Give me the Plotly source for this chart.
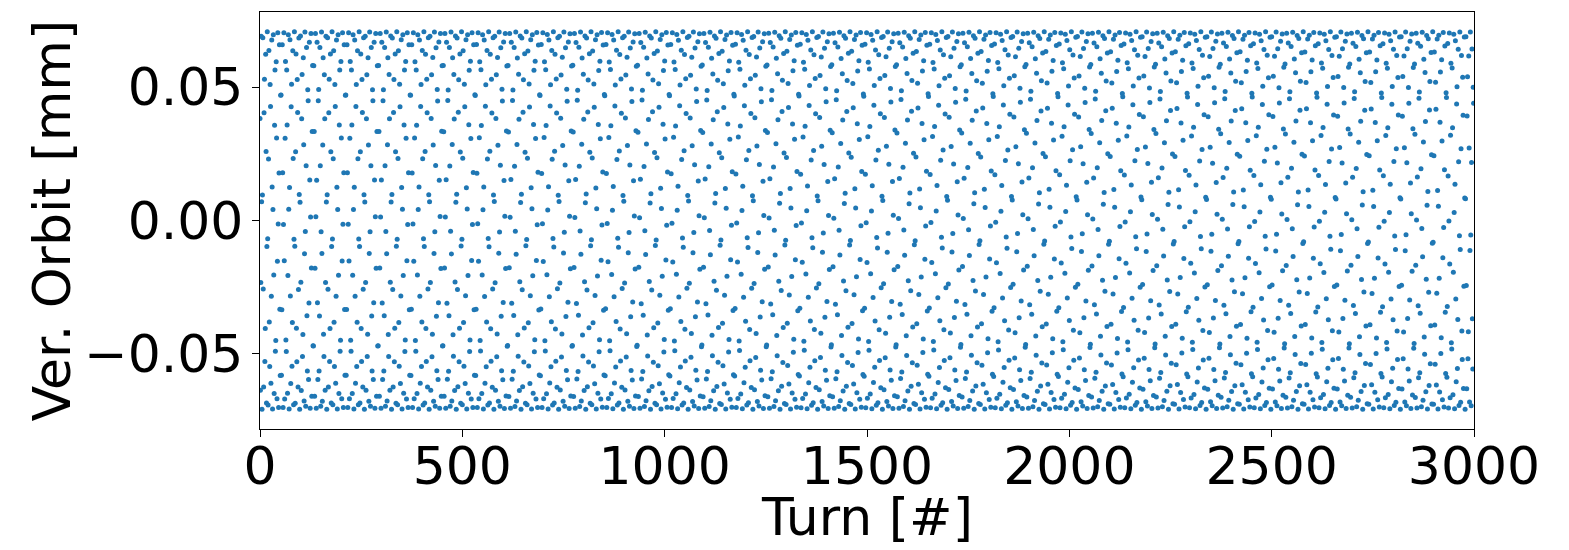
import numpy as np
import plotly.graph_objects as go

# Turn-by-turn vertical orbit: a betatron oscillation sampled once per turn.
# The 3000 samples are generated from oscillation parameters estimated from the
# picture (amplitude, fractional tune giving the ~160-turn repeat, phase).
n_turns = 3000
amplitude_mm = 0.0707
frac_tune = 43 / 160 + 1e-6
phase0 = 1.0

x_ticks = [0, 500, 1000, 1500, 2000, 2500, 3000]
x_tick_labels = ["0", "500", "1000", "1500", "2000", "2500", "3000"]
y_ticks = [-0.05, 0.0, 0.05]
y_tick_labels = ["\u22120.05", "0.00", "0.05"]
x_title = "Turn [#]"
y_title = "Ver. Orbit [mm]"

turns = np.arange(n_turns)
orbit = amplitude_mm * np.cos(2 * np.pi * frac_tune * turns + phase0)

fig = go.Figure()
fig.add_trace(go.Scatter(
    x=turns, y=orbit, mode="markers",
    marker=dict(color="#1f77b4", size=5, line=dict(width=0)),
    hoverinfo="skip",
))

font = dict(family="DejaVu Sans", size=52, color="black")
axis_common = dict(showgrid=False, zeroline=False, showline=True, linecolor="black",
                   linewidth=1.3, mirror=True, ticks="outside", ticklen=7, tickwidth=1.3,
                   tickcolor="black", tickfont=font, automargin=False)
fig.update_layout(
    width=1569, height=550,
    margin=dict(l=260, r=95, t=12, b=121, autoexpand=False),
    paper_bgcolor="white", plot_bgcolor="white",
    showlegend=False,
    xaxis=dict(range=[0, 3000], tickvals=x_ticks, ticktext=x_tick_labels,
               ticklabelstandoff=-16, **axis_common),
    yaxis=dict(range=[-0.0781, 0.0781], tickvals=y_ticks, ticktext=y_tick_labels,
               ticklabelstandoff=-2, **axis_common),
    annotations=[
        dict(text=x_title, xref="paper", yref="paper", x=0.5, y=0, xanchor="center",
             yanchor="middle", yshift=-88, showarrow=False, font=font, borderpad=0),
        dict(text=y_title, xref="paper", yref="paper", x=0, y=0.5, xanchor="center",
             yanchor="middle", xshift=-209, textangle=-90, showarrow=False, font=font),
    ],
)
fig.write_html("out.html", config={"displayModeBar": False},
               post_script="document.body.style.margin='0';document.body.style.overflow='hidden';")
